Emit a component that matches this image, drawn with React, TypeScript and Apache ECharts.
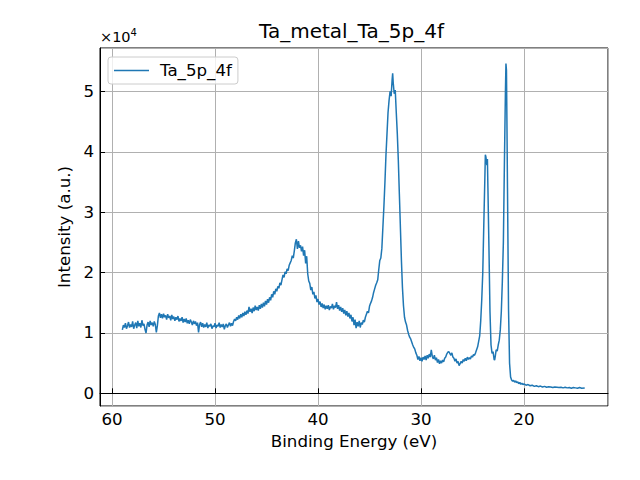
import React, { useEffect, useRef } from "react";
import * as echarts from "echarts";

const bindingEnergy: number[] = [
  59.0, 58.9, 58.8, 58.7, 58.6, 58.5, 58.4, 58.3, 58.2, 58.1,
  58.0, 57.9, 57.8, 57.7, 57.6, 57.5, 57.4, 57.3, 57.2, 57.1,
  57.0, 56.9, 56.8, 56.7, 56.6, 56.5, 56.4, 56.3, 56.2, 56.1,
  56.0, 55.9, 55.8, 55.7, 55.6, 55.5, 55.4, 55.3, 55.2, 55.1,
  55.0, 54.9, 54.8, 54.7, 54.6, 54.5, 54.4, 54.3, 54.2, 54.1,
  54.0, 53.9, 53.8, 53.7, 53.6, 53.5, 53.4, 53.3, 53.2, 53.1,
  53.0, 52.9, 52.8, 52.7, 52.6, 52.5, 52.4, 52.3, 52.2, 52.1,
  52.0, 51.9, 51.8, 51.7, 51.6, 51.5, 51.4, 51.3, 51.2, 51.1,
  51.0, 50.9, 50.8, 50.7, 50.6, 50.5, 50.4, 50.3, 50.2, 50.1,
  50.0, 49.9, 49.8, 49.7, 49.6, 49.5, 49.4, 49.3, 49.2, 49.1,
  49.0, 48.9, 48.8, 48.7, 48.6, 48.5, 48.4, 48.3, 48.2, 48.1,
  48.0, 47.9, 47.8, 47.7, 47.6, 47.5, 47.4, 47.3, 47.2, 47.1,
  47.0, 46.9, 46.8, 46.7, 46.6, 46.5, 46.4, 46.3, 46.2, 46.1,
  46.0, 45.9, 45.8, 45.7, 45.6, 45.5, 45.4, 45.3, 45.2, 45.1,
  45.0, 44.9, 44.8, 44.7, 44.6, 44.5, 44.4, 44.3, 44.2, 44.1,
  44.0, 43.9, 43.8, 43.7, 43.6, 43.5, 43.4, 43.3, 43.2, 43.1,
  43.0, 42.9, 42.8, 42.7, 42.6, 42.5, 42.4, 42.3, 42.2, 42.1,
  42.0, 41.9, 41.8, 41.7, 41.6, 41.5, 41.4, 41.3, 41.2, 41.1,
  41.0, 40.9, 40.8, 40.7, 40.6, 40.5, 40.4, 40.3, 40.2, 40.1,
  40.0, 39.9, 39.8, 39.7, 39.6, 39.5, 39.4, 39.3, 39.2, 39.1,
  39.0, 38.9, 38.8, 38.7, 38.6, 38.5, 38.4, 38.3, 38.2, 38.1,
  38.0, 37.9, 37.8, 37.7, 37.6, 37.5, 37.4, 37.3, 37.2, 37.1,
  37.0, 36.9, 36.8, 36.7, 36.6, 36.5, 36.4, 36.3, 36.2, 36.1,
  36.0, 35.9, 35.8, 35.7, 35.6, 35.5, 35.4, 35.3, 35.2, 35.1,
  35.0, 34.9, 34.8, 34.7, 34.6, 34.5, 34.4, 34.3, 34.2, 34.1,
  34.0, 33.9, 33.8, 33.7, 33.6, 33.5, 33.4, 33.3, 33.2, 33.1,
  33.0, 32.9, 32.8, 32.75, 32.7, 32.6, 32.5, 32.4, 32.3, 32.2,
  32.1, 32.0, 31.9, 31.8, 31.7, 31.6, 31.5, 31.4, 31.3, 31.2,
  31.1, 31.0, 30.9, 30.8, 30.7, 30.6, 30.5, 30.4, 30.3, 30.2,
  30.1, 30.0, 29.9, 29.8, 29.7, 29.6, 29.5, 29.4, 29.3, 29.2,
  29.1, 29.0, 28.9, 28.8, 28.7, 28.6, 28.5, 28.4, 28.3, 28.2,
  28.1, 28.0, 27.9, 27.8, 27.7, 27.6, 27.5, 27.4, 27.3, 27.2,
  27.1, 27.0, 26.9, 26.8, 26.7, 26.6, 26.5, 26.4, 26.3, 26.2,
  26.1, 26.0, 25.9, 25.8, 25.7, 25.6, 25.5, 25.4, 25.3, 25.2,
  25.1, 25.0, 24.9, 24.8, 24.7, 24.6, 24.5, 24.4, 24.3, 24.2,
  24.1, 24.0, 23.9, 23.8, 23.75, 23.7, 23.6, 23.55, 23.5, 23.4,
  23.3, 23.2, 23.1, 23.0, 22.9, 22.85, 22.8, 22.7, 22.6, 22.5,
  22.4, 22.3, 22.2, 22.1, 22.0, 21.9, 21.8, 21.75, 21.7, 21.65,
  21.6, 21.5, 21.4, 21.3, 21.2, 21.1, 21.0, 20.9, 20.8, 20.7,
  20.6, 20.5, 20.4, 20.3, 20.2, 20.1, 20.0, 19.8, 19.6, 19.4,
  19.2, 19.0, 18.8, 18.6, 18.4, 18.2, 18.0, 17.8, 17.6, 17.4,
  17.2, 17.0, 16.8, 16.6, 16.4, 16.2, 16.0, 15.8, 15.6, 15.4,
  15.2, 15.0, 14.8, 14.6, 14.4, 14.1,
];

const intensity: number[] = [
  10500, 11300, 10900, 11600, 10700, 11200, 11800, 10900, 11400, 11000,
  11900, 10700, 11300, 11700, 10800, 12000, 11100, 11600, 10900, 12100,
  11200, 11500, 10600, 10000, 11300, 11800, 11000, 12000, 11300, 11700,
  11100, 11900, 11400, 10100, 11200, 12800, 13300, 12500, 13100, 12400,
  13200, 12600, 12900, 12200, 13100, 12500, 12800, 12100, 13000, 12300,
  12700, 12000, 12600, 12200, 12800, 11900, 12400, 12000, 12600, 11700,
  12300, 11800, 12400, 11600, 12100, 11500, 12200, 11800, 11300, 12000,
  11500, 11900, 11200, 11700, 10100, 11400, 11800, 11000, 11600, 10900,
  11400, 11000, 11700, 10800, 11300, 11100, 11500, 10700, 11200, 11000,
  11600, 10800, 11300, 11100, 11700, 10900, 11400, 11000, 11500, 10600,
  11200, 11500, 10900, 11300, 11700, 11100, 11600, 11200, 11900, 12300,
  12000, 12600, 12200, 12900, 12400, 13100, 12600, 13300, 12800, 13500,
  13000, 13700, 13200, 14300, 13500, 14000, 13300, 14200, 13600, 14500,
  13800, 14300, 13700, 14600, 14000, 14800, 14200, 15000, 14400, 15300,
  14700, 15600, 15000, 15900, 15400, 16400, 15900, 16900, 16400, 17300,
  16900, 17700, 17400, 18300, 17900, 18800, 19600, 19200, 20100, 19800,
  20600, 20300, 21200, 21600, 22000, 22800, 22400, 23600, 24900, 25500,
  23900, 25200, 24100, 24500, 23500, 24300, 22800, 23700, 21500, 22700,
  19800, 18600, 18200, 17100, 17600, 16400, 16800, 15700, 16200, 15100,
  15600, 14700, 15200, 14300, 14900, 14100, 14700, 13900, 14500, 14000,
  14600, 13800, 14400, 14100, 14800, 13900, 14500, 14200, 15100, 14000,
  14600, 13700, 14300, 13500, 14100, 13200, 13800, 12900, 13600, 12700,
  13300, 12400, 13000, 11900, 12600, 11300, 12200, 10800, 11800, 11100,
  12000, 10900, 11700, 11400, 12100, 11800, 12600, 13100, 13600, 13300,
  14400, 14900, 15300, 15900, 16700, 17300, 17900, 18300, 18800, 20500,
  22000, 22400, 24000, 27500, 31000, 35000, 39500, 43000, 46500, 48500,
  50000, 49200, 52000, 53000, 51500, 49600, 50200, 46500, 43000, 38500,
  33000, 27500, 22000, 17500, 14500, 12600, 11800, 11300, 10400, 9800,
  9300, 9000, 8500, 8000, 7600, 7300, 6700, 6300, 5600, 6100,
  5400, 5900, 5300, 6000, 5600, 6200, 5500, 6300, 5800, 6500,
  6000, 7200, 6100, 5700, 6300, 5500, 5900, 5100, 5600, 4900,
  5400, 5000, 5500, 5200, 5800, 6000, 6500, 6800, 6900, 6600,
  6300, 6700, 6000, 5800, 5300, 5700, 5000, 5300, 4600, 4900,
  5300, 5000, 5600, 5300, 5800, 5400, 6000, 5600, 5900, 5700,
  6200, 6000, 6400, 6300, 6700, 7200, 7700, 8600, 9500, 12000,
  15500, 20000, 28000, 35500, 39500, 39200, 37800, 38800, 34000, 24000,
  13500, 8000, 6600, 6900, 5600, 5500, 6000, 7200, 7000, 8000,
  8800, 10500, 13500, 18500, 25000, 38000, 50000, 54600, 53500, 44000,
  34000, 14000, 5000, 2700, 2200, 2000, 2150, 1850, 2050, 1750,
  1900, 1600, 1800, 1500, 1650, 1450, 1550, 1350, 1450, 1250,
  1350, 1150, 1250, 1100, 1200, 1050, 1150, 1000, 1100, 1050,
  950, 1050, 1000, 950, 1000, 900, 1000, 900, 950, 850,
  950, 900, 850, 950, 850, 900,
];

const xTicks: number[] = [20, 30, 40, 50, 60];
const yTickScale = 10000;
const seriesName = "Ta_5p_4f";
const chartTitle = "Ta_metal_Ta_5p_4f";

const FONT = "DejaVu Sans";
const FS = 16.67;

export default function App() {
  const ref = useRef<HTMLDivElement>(null);

  useEffect(() => {
    if (!ref.current) return;
    const chart = echarts.init(ref.current, null, { renderer: "svg" });
    const data = bindingEnergy.map((e, i) => [e, intensity[i]]);
    chart.setOption({
      animation: false,
      backgroundColor: "#ffffff",
      title: {
        text: chartTitle,
        left: 259,
        top: 21,
        padding: 0,
        textStyle: {
          fontFamily: FONT,
          fontSize: 20,
          fontWeight: "normal",
          color: "#000",
        },
      },
      legend: {
        left: 108,
        top: 57,
        orient: "vertical",
        padding: [5, 6, 5, 6],
        icon: "rect",
        itemWidth: 35,
        itemHeight: 1.5,
        itemStyle: { color: "#1f77b4" },
        backgroundColor: "rgba(255,255,255,0.8)",
        borderColor: "#cccccc",
        borderWidth: 1,
        borderRadius: 3,
        textStyle: {
          fontFamily: FONT,
          fontSize: FS,
          color: "#000",
          padding: [0, 0, 0, 6],
        },
        data: [seriesName],
      },
      grid: {
        left: 100,
        right: 32,
        top: 48,
        bottom: 74,
        show: true,
        borderColor: "#000",
        borderWidth: 1,
        backgroundColor: "transparent",
      },
      xAxis: {
        type: "value",
        inverse: true,
        min: 11.84,
        max: 61.17,
        splitNumber: 5,
        minInterval: 10,
        maxInterval: 10,
        name: "Binding Energy (eV)",
        nameLocation: "middle",
        nameGap: 26,
        nameTextStyle: { fontFamily: FONT, fontSize: FS, color: "#000" },
        axisLine: { show: true, lineStyle: { color: "#000", width: 1 } },
        axisTick: { show: true, inside: true, length: 5, lineStyle: { color: "#000", width: 1 } },
        axisLabel: {
          show: true,
          margin: 5,
          fontFamily: FONT,
          fontSize: FS,
          color: "#000",
          showMinLabel: false,
          showMaxLabel: false,
          formatter: (v: number) => (xTicks.indexOf(Math.round(v * 100) / 100) >= 0 ? String(v) : ""),
        },
        splitLine: { show: true, lineStyle: { color: "#b0b0b0", width: 1 } },
      },
      yAxis: {
        type: "value",
        min: -2100,
        max: 57180,
        splitNumber: 6,
        minInterval: yTickScale,
        maxInterval: yTickScale,
        name: "Intensity (a.u.)",
        nameLocation: "middle",
        nameGap: 27,
        nameTextStyle: { fontFamily: FONT, fontSize: FS, color: "#000" },
        axisLine: { show: true, lineStyle: { color: "#000", width: 1 } },
        axisTick: { show: true, inside: true, length: 5, lineStyle: { color: "#000", width: 1 } },
        axisLabel: {
          show: true,
          margin: 6,
          fontFamily: FONT,
          fontSize: FS,
          color: "#000",
          showMinLabel: false,
          showMaxLabel: false,
          formatter: (v: number) => (v % yTickScale === 0 ? String(v / yTickScale) : ""),
        },
        splitLine: { show: true, lineStyle: { color: "#b0b0b0", width: 1 } },
      },
      graphic: [
        {
          type: "text",
          left: 100,
          top: 27,
          style: {
            text: "{a|×10}{b|4}",
            rich: {
              a: { fontFamily: FONT, fontSize: 14.5, color: "#000", verticalAlign: "bottom", lineHeight: 17 },
              b: { fontFamily: FONT, fontSize: 10, color: "#000", verticalAlign: "top", lineHeight: 10, padding: [0, 0, 7, 0] },
            },
          },
        },
      ],
      series: [
        {
          name: seriesName,
          type: "line",
          data,
          symbol: "none",
          showSymbol: false,
          lineStyle: { color: "#1f77b4", width: 1.5 },
          itemStyle: { color: "#1f77b4" },
        },
      ],
    });
    return () => chart.dispose();
  }, []);

  return (
    <div
      ref={ref}
      style={{ position: "fixed", left: 0, top: 0, width: 640, height: 480 }}
    />
  );
}
